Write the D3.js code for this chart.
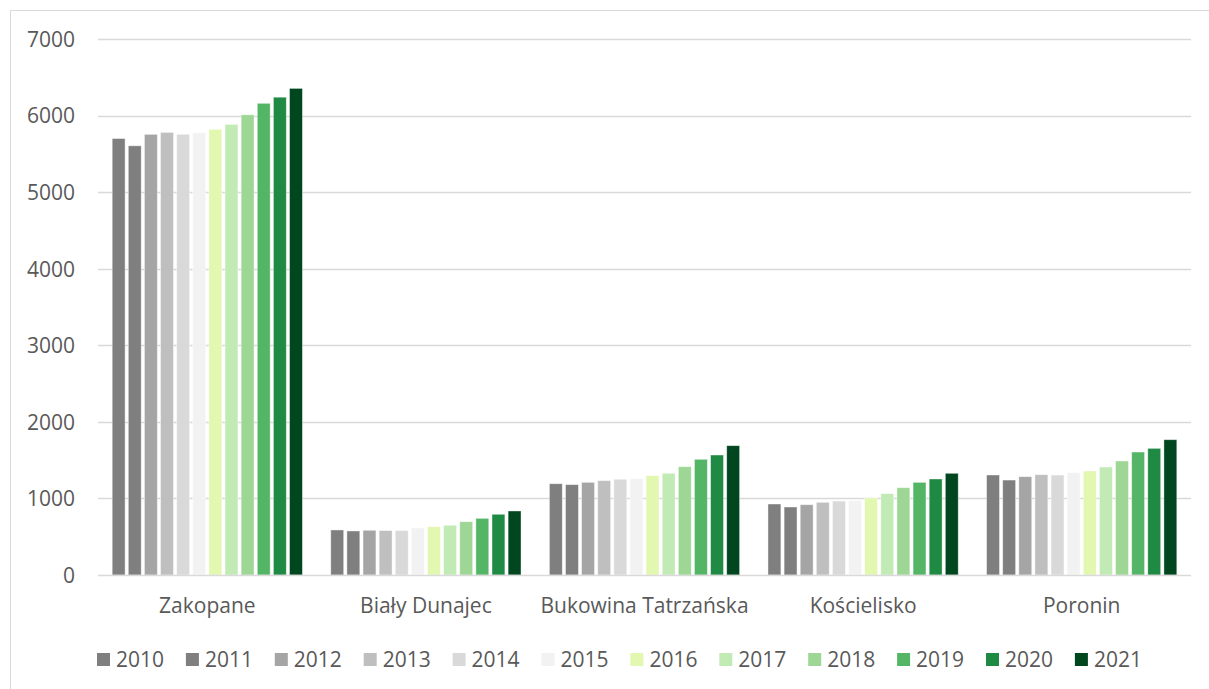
<!DOCTYPE html>
<html>
<head>
<meta charset="utf-8">
<script src="https://cdn.jsdelivr.net/npm/d3@7"></script>
<style>
  body { margin: 0; background: #fff; }
  svg { display: block; }
  text { font-family: "Open Sans", "Liberation Sans", sans-serif; fill: #595959; }
</style>
</head>
<body>
<svg id="chart" width="1209" height="689"></svg>
<script>
const categories = ["Zakopane", "Biały Dunajec", "Bukowina Tatrzańska", "Kościelisko", "Poronin"];
const years = ["2010","2011","2012","2013","2014","2015","2016","2017","2018","2019","2020","2021"];
const values = {
  "Zakopane":            [5700, 5605, 5755, 5780, 5755, 5775, 5820, 5885, 6010, 6160, 6240, 6355],
  "Biały Dunajec":       [588, 575, 584, 580, 580, 614, 631, 649, 696, 740, 793, 836],
  "Bukowina Tatrzańska": [1192, 1180, 1210, 1232, 1250, 1258, 1297, 1328, 1414, 1511, 1567, 1689],
  "Kościelisko":         [927, 888, 918, 949, 966, 970, 1005, 1062, 1140, 1210, 1254, 1328],
  "Poronin":             [1306, 1240, 1284, 1310, 1305, 1336, 1358, 1410, 1489, 1606, 1654, 1767]
};
const colors = ["#7f7f7f","#7f7f7f","#a5a5a5","#bfbfbf","#d9d9d9","#f2f2f2","#e2f7b0","#c1eab4","#9dd695","#55b567","#1f8a43","#00461e"];
const yTicks = [0, 1000, 2000, 3000, 4000, 5000, 6000, 7000];

const svg = d3.select("#chart");
const W = 1209, H = 689;
const m = { left: 98, right: 1191, top: 39, bottom: 575 };
const FS = "21px";

// outer border (only left/top visible in reference)
svg.append("rect").attr("x", 10.5).attr("y", 10.5).attr("width", W).attr("height", H)
  .attr("fill", "none").attr("stroke", "#d9d9d9").attr("stroke-width", 1);

const x0 = d3.scaleBand().domain(categories).range([m.left, m.right]).paddingInner(0).paddingOuter(0);
const x1 = d3.scaleBand().domain(years).range([0, x0.bandwidth()]).paddingInner(0.2).paddingOuter(0.88);
const y = d3.scaleLinear().domain([0, 7000]).range([m.bottom, m.top]);

// gridlines
svg.append("g").selectAll("line").data(yTicks.filter(t => t > 0)).join("line")
  .attr("x1", m.left).attr("x2", m.right)
  .attr("y1", d => Math.round(y(d)) + 0.5).attr("y2", d => Math.round(y(d)) + 0.5)
  .attr("stroke", "#d9d9d9").attr("stroke-width", 1.3);

// y labels
const yAxis = d3.axisLeft(y).tickValues(yTicks).tickSize(0).tickPadding(0).tickFormat(d3.format("d"));
const ya = svg.append("g").attr("transform", `translate(75,0)`).call(yAxis);
ya.select(".domain").remove();
ya.selectAll("text").style("font-size", FS).attr("fill", "#595959").attr("dy", "0.35em");

// bars
const groups = svg.append("g").selectAll("g").data(categories).join("g")
  .attr("transform", d => `translate(${x0(d)},0)`);
groups.selectAll("rect").data(c => values[c].map((v, i) => ({ v, i, year: years[i] }))).join("rect")
  .attr("x", d => x1(d.year))
  .attr("width", x1.bandwidth())
  .attr("y", d => y(d.v))
  .attr("height", d => y(0) - y(d.v))
  .attr("fill", d => colors[d.i])
  .attr("stroke", "#ffffff").attr("stroke-opacity", 0.5).attr("stroke-width", 0.8);

// baseline
svg.append("line").attr("x1", m.left).attr("x2", m.right)
  .attr("y1", y(0) + 0.5).attr("y2", y(0) + 0.5)
  .attr("stroke", "#d9d9d9").attr("stroke-width", 1.5);

// x labels
const xAxis = d3.axisBottom(x0).tickSize(0).tickPadding(0);
const xa = svg.append("g").attr("transform", `translate(0,${y(0)})`).call(xAxis);
xa.select(".domain").remove();
xa.selectAll("text").style("font-size", FS).attr("fill", "#595959").attr("dy", null).attr("y", 38);

// legend
const legStart = 97, legStep = 88.9;
const leg = svg.append("g").selectAll("g").data(years).join("g")
  .attr("transform", (d, i) => `translate(${legStart + i * legStep},653)`);
leg.append("rect").attr("width", 13).attr("height", 13).attr("fill", (d, i) => colors[i]);
leg.append("text").attr("x", 19).attr("y", 13.5).style("font-size", FS).text(d => d);
</script>
</body>
</html>
